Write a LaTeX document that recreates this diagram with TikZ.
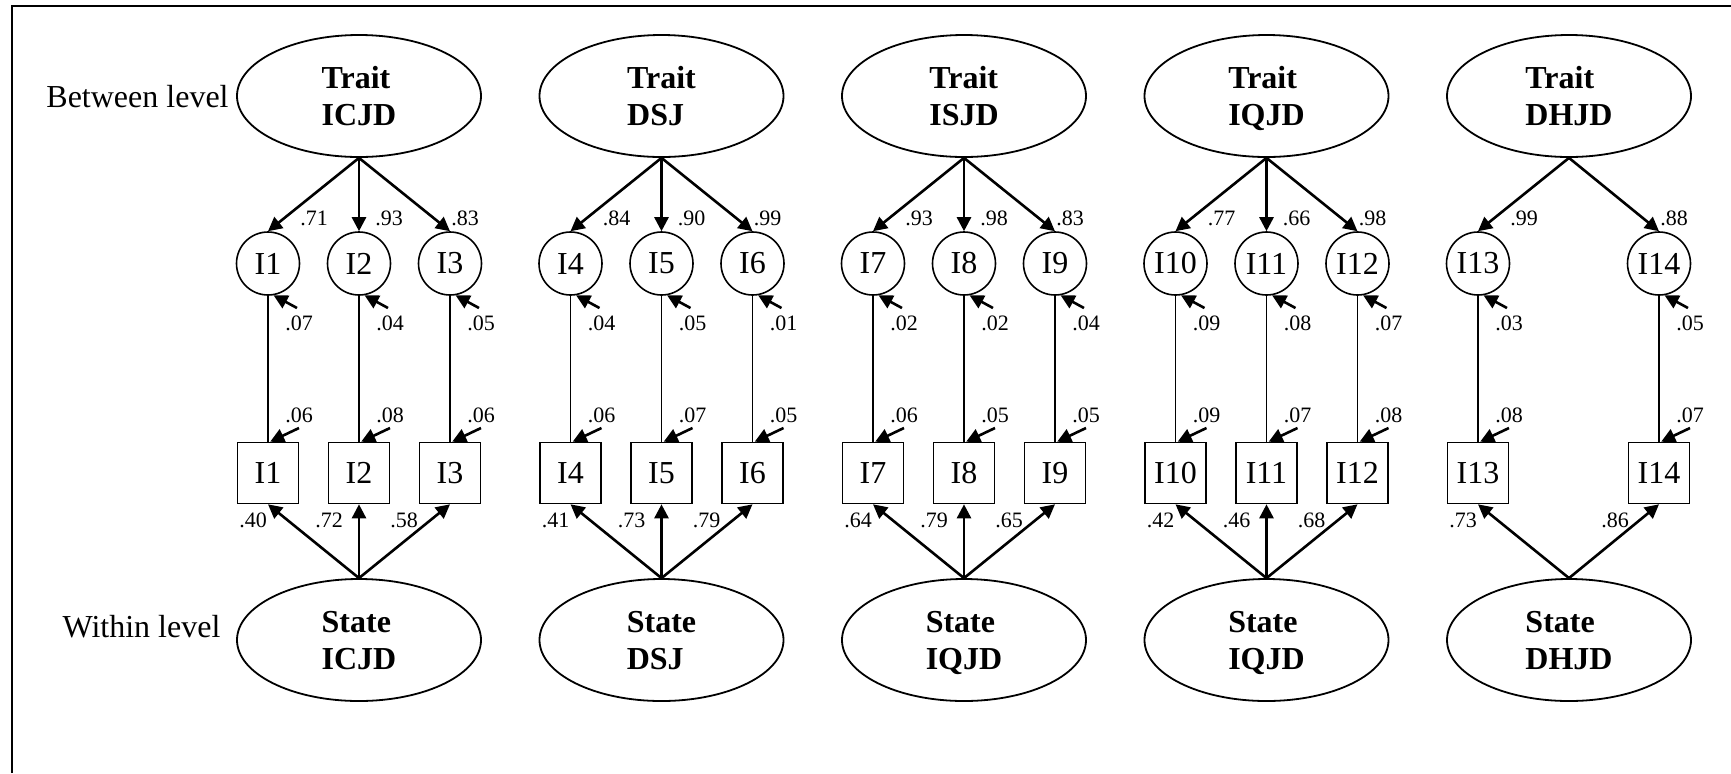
\documentclass[tikz,border=0pt]{standalone}
\usepackage{fontspec}
\setmainfont{Liberation Serif}
\usetikzlibrary{shapes.geometric,arrows.meta,calc}
\begin{document}
\begin{tikzpicture}[x=0.5pt,y=-0.5pt,
  latentbig/.style={draw,ellipse,line width=0.9pt,minimum width=122pt,minimum height=61pt,inner sep=0pt,
    align=left,text depth=0pt,font=\fontsize{16}{18.5}\selectfont\bfseries},
  itemcirc/.style={draw,circle,line width=0.8pt,minimum size=31.5pt,inner sep=0pt,font=\fontsize{16}{18}\selectfont},
  itembox/.style={draw,rectangle,line width=0.8pt,minimum width=30.5pt,minimum height=30.5pt,inner sep=0pt,font=\fontsize{16}{18}\selectfont},
  arr/.style={line width=1.3pt,-{Triangle[length=7pt,width=7pt]}},
  resarr/.style={line width=1.3pt,-{Triangle[length=7pt,width=7pt]}},
  thinline/.style={line width=0.75pt},
  lbl/.style={inner sep=0pt,font=\fontsize{11}{13}\selectfont},
  leveltext/.style={inner sep=0pt,font=\fontsize{16}{18}\selectfont},
  frameline/.style={line width=1pt}]
\useasboundingbox (0,0) rectangle (1731,773);
% frame
\coordinate (fbl) at (12,773);
\coordinate (ftl) at (12,6);
\coordinate (ftr) at (1731,6);
\draw[frameline] (fbl) -- (ftl) -- (ftr);
% level labels
\node[leveltext] (between) at (137.5,97) {Between level};
\node[leveltext] (within) at (141.5,627) {Within level};
% latent factors
\foreach \g/\x/\tn/\sn in {1/359/ICJD/ICJD,2/661.5/DSJ/DSJ,3/964/ISJD/IQJD,4/1266.5/IQJD/IQJD,5/1569/DHJD/DHJD}{
  \node[latentbig] (T\g) at (\x,96) {Trait\\\tn};
  \node[latentbig] (S\g) at (\x,640) {State\\\sn};
}
% items
\foreach \n/\x/\g/\ot/\ob/\lt/\rc/\rs/\lb in {
  1/268/1/46/-15/.71/.07/.06/.40,
  2/359/1/30/-30/.93/.04/.08/.72,
  3/450/1/15/-46/.83/.05/.06/.58,
  4/570.5/2/46/-15/.84/.04/.06/.41,
  5/661.5/2/30/-30/.90/.05/.07/.73,
  6/752.5/2/15/-46/.99/.01/.05/.79,
  7/873/3/46/-15/.93/.02/.06/.64,
  8/964/3/30/-30/.98/.02/.05/.79,
  9/1055/3/15/-46/.83/.04/.05/.65,
  10/1175.5/4/46/-15/.77/.09/.09/.42,
  11/1266.5/4/30/-30/.66/.08/.07/.46,
  12/1357.5/4/15/-46/.98/.07/.08/.68,
  13/1478/5/46/-15/.99/.03/.08/.73,
  14/1659/5/15/-44/.88/.05/.07/.86}{
  \node[itemcirc] (c\n) at (\x,263.5) {I\n};
  \node[itembox] (s\n) at (\x,473) {I\n};
  \draw[thinline] (c\n.south) -- (s\n.north);
  \draw[arr] (T\g.south) -- (c\n.north);
  \draw[arr] (S\g.north) -- (s\n.south);
  \coordinate (rcs\n) at ($(c\n.center)+(29,44.5)$);
  \coordinate (rss\n) at ($(s\n.center)+(31,-45)$);
  \draw[resarr] (rcs\n) -- (c\n.-80);
  \draw[resarr] (rss\n) -- (s\n.86);
  \node[lbl] (lt\n) at ($(c\n.center)+(\ot,-45)$) {\lt};
  \node[lbl] (lrc\n) at ($(c\n.center)+(31,59.5)$) {\rc};
  \node[lbl] (lrs\n) at ($(s\n.center)+(31,-58)$) {\rs};
  \node[lbl] (lb\n) at ($(s\n.center)+(\ob,47)$) {\lb};
}
\end{tikzpicture}
\end{document}
